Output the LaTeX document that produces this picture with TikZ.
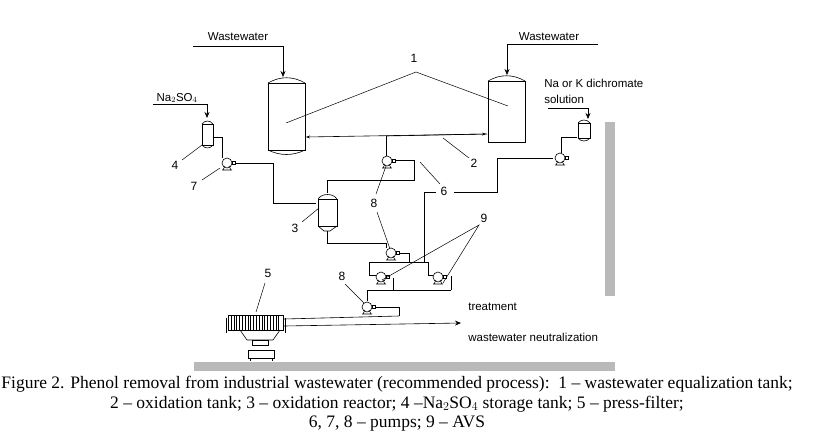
\documentclass[tikz,border=0pt]{standalone}
\usepackage{fontspec}
\setmainfont{Liberation Serif}
\newfontfamily\sansf{Liberation Sans}
\usetikzlibrary{arrows.meta}
\begin{document}
\begin{tikzpicture}[x=1pt,y=-1pt,line width=0.6pt,
  lbl/.style={font=\sansf\fontsize{11.5}{12}\selectfont,inner sep=1pt},
  num/.style={font=\sansf\fontsize{12}{13}\selectfont,inner sep=1pt},
  lead/.style={line width=0.5pt},
  flow/.style={-{Stealth[length=6pt,width=5pt]}},
  pump/.pic={\draw[fill=white] (0,0) circle (5); \draw (-4,7)--(-2,3) (4,7)--(2,3) (-5,7)--(5,7); \draw (5,-2) rectangle (8,1);}]
\useasboundingbox (0,0) rectangle (824,434);
% gray bars
\fill[gray!55] (605,122) rectangle (615,296);
\fill[gray!55] (194,362) rectangle (615,371);
% tank 1 left
\draw (268,83) rectangle (305,150);
\draw (268,83) .. controls (280,76) and (293,76) .. (305,83);
\draw (268,150) .. controls (280,156) and (293,156) .. (305,150);
% tank 1 right
\draw (488,81) rectangle (525,142);
\draw (488,81) .. controls (500,74) and (513,74) .. (525,81);
% wastewater inputs
\node[lbl] (ww1) at (238,37) {Wastewater};
\coordinate (w1a) at (193,46); \coordinate (w1b) at (283,46); \coordinate (w1c) at (283,77);
\draw[flow] (w1a) -- (w1b) -- (w1c);
\node[lbl] (ww2) at (549,37) {Wastewater};
\coordinate (w2a) at (598,44); \coordinate (w2b) at (507,44); \coordinate (w2c) at (507,75);
\draw[flow] (w2a) -- (w2b) -- (w2c);
% label 1
\node[num] (n1) at (414,58) {1};
\coordinate (v1) at (416,72);
\draw[lead] (286,123) -- (v1) -- (508,106);
% line 2 between tanks
\coordinate (j2) at (386,136);
\draw[-{Stealth[length=4pt,width=3pt]}] (487,134) -- (306,137);
\draw[-{Stealth[length=4pt,width=3pt]}] (j2) -- (486,134);
\node[num] (n2) at (474,163) {2};
\draw[lead] (443,138) -- (469,158);
% upper pump 8
\pic at (387,161) {pump};
\draw (j2) -- (386,156);
\draw (395,160) -- (414,160) -- (414,180) -- (327,180) -- (327,193);
% Na2SO4 storage 4
\node[lbl] (na) at (177,98) {Na$_2$SO$_4$};
\draw[flow] (153,104) -- (207,104) -- (207,118);
\draw (202,124) rectangle (213,145);
\draw (202,124) .. controls (205,120) and (210,120) .. (213,124);
\draw (202,145) .. controls (205,149) and (210,149) .. (213,145);
\node[num] (n4) at (175,165) {4};
\draw[lead] (182,160) -- (202,145);
% pump 7
\pic at (227,163) {pump};
\draw (213,137) -- (222,137) -- (222,158);
\draw (235,163) -- (273,163) -- (273,203) -- (316,203);
\node[num] (n7) at (194,186) {7};
\draw[lead] (202,180) -- (220,168);
% reactor 3
\draw (318,199) rectangle (337,226);
\draw (318,199) .. controls (322,193) and (333,193) .. (337,199);
\draw (318,226) -- (324,231) -- (330,231) -- (337,226);
\node[num] (n3) at (295,228) {3};
\draw[lead] (302,222) -- (319,208);
\draw (327,231) -- (327,243) -- (386,243) -- (386,248);
% label 8 upper
\node[num] (n8a) at (374,203) {8};
\draw[lead] (376,194) -- (386,166);
\draw[lead] (377,212) -- (390,249);
% middle pump 8
\pic at (391,253) {pump};
\draw (399,253) -- (409,253) -- (409,262);
% AVS header
\draw (369,262) -- (428,262);
\draw (369,262) -- (369,275) -- (376,275);
\draw (428,262) -- (428,275) -- (433,275);
\pic at (381,277) {pump};
\pic at (438,277) {pump};
\draw (393,278) -- (393,290);
\draw (451,276) -- (451,290);
\draw (367,290) -- (451,290);
% line 6
\draw (424,262) -- (424,192) -- (436,192);
\node[num] (n6) at (444,191) {6};
\draw (454,192) -- (497,192) -- (497,158) -- (553,158);
\draw[lead] (420,162) -- (440,184);
% dichromate
\node[lbl,anchor=west] (dk1) at (543,83) {Na or K dichromate};
\node[lbl,anchor=west] (dk2) at (543,99) {solution};
\draw[flow] (548,108) -- (588,108) -- (588,119);
\draw (578,123) rectangle (590,138);
\draw (578,123) .. controls (581,119) and (587,119) .. (590,123);
\draw (578,138) .. controls (581,142) and (587,142) .. (590,138);
\pic at (560,158) {pump};
\draw (561,153) -- (561,137) -- (577,137);
% label 9
\node[num] (n9) at (484,218) {9};
\draw[lead] (382,280) -- (479,225) -- (443,283);
% lower pump 8
\draw (367,290) -- (367,301);
\pic at (367,307) {pump};
\draw (375,307) -- (399,307) -- (399,316);
\node[num] (n8b) at (342,276) {8};
\draw[lead] (345,284) -- (364,303);
% press filter 5
\draw (228,315) rectangle (283,330);
\foreach \i in {0,...,17} \draw[line width=0.4pt] (231+\i*2.8,315) -- (231+\i*2.8,330);
\draw (226,318) -- (226,333) (285,318) -- (285,333);
\draw (240,330) -- (247,340) -- (273,340) -- (280,330);
\draw (252,340) rectangle (268,345);
\draw (248,350) rectangle (274,358);
\draw (250,358) -- (250,361) (272,358) -- (272,361);
\node[num] (n5) at (268,273) {5};
\draw[lead] (265,283) -- (256,312);
\draw (399,316) -- (284,319);
\draw[-{Stealth[length=6pt,width=5pt]}] (284,326) -- (461,323);
\node[lbl,anchor=west] (tr) at (467,307) {treatment};
\node[lbl,anchor=west] (wn) at (467,337) {wastewater neutralization};
% caption
\node[font=\fontsize{17.5}{19.5}\selectfont,align=center,inner sep=0] (cap) at (397,404) {Figure 2. Phenol removal from industrial wastewater (recommended process): \,1 -- wastewater equalization tank;\\
2 -- oxidation tank; 3 -- oxidation reactor; 4 --Na$_2$SO$_4$ storage tank; 5 -- press-filter;\\
6, 7, 8 -- pumps; 9 -- AVS};
\end{tikzpicture}
\end{document}
